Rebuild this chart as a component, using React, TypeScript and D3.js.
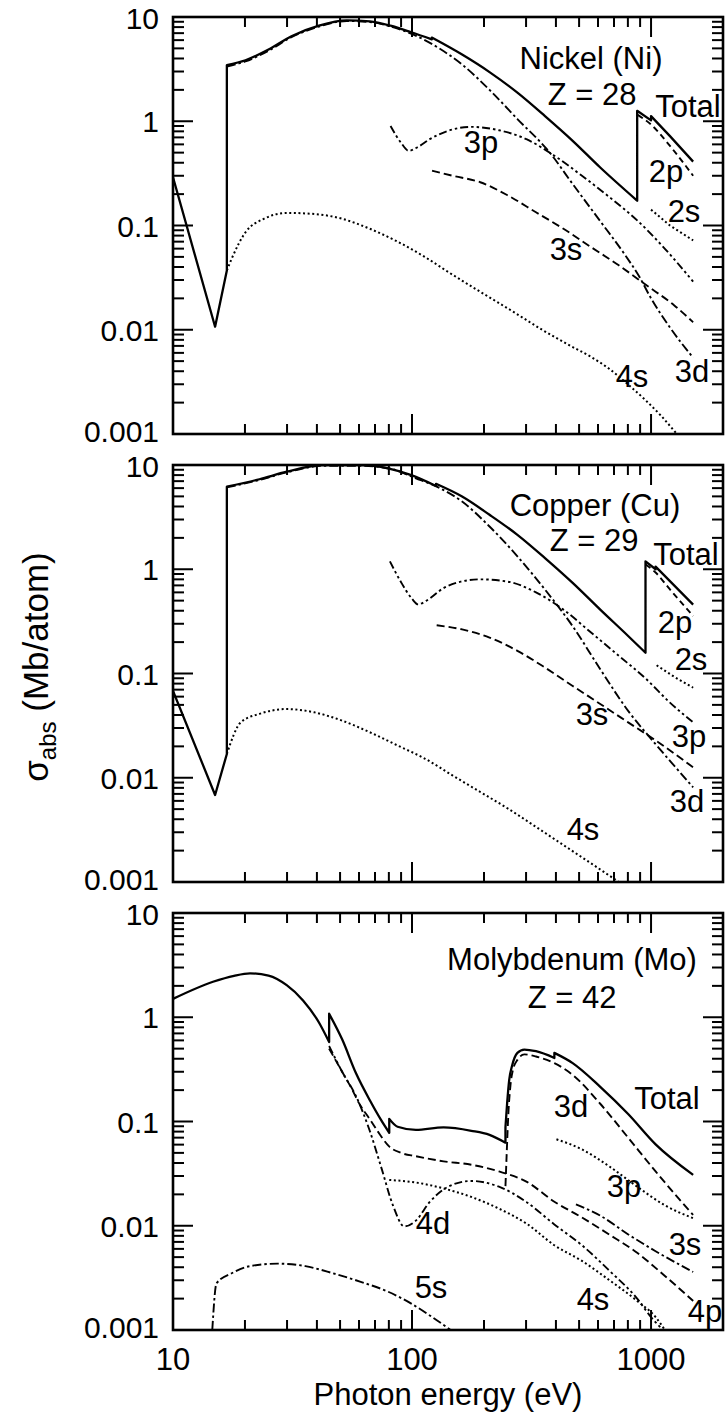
import React from 'react';
import * as d3 from 'd3';

type Pt = [number, number];

// ---------- axis data ----------
const xMajorTicks = [10, 100, 1000];
const xTickLabels = ['10', '100', '1000'];
const yMajorTicks = [10, 1, 0.1, 0.01, 0.001];
const yTickLabels = ['10', '1', '0.1', '0.01', '0.001'];
const minorMult = [2, 3, 4, 5, 6, 7, 8, 9];
const xTitle = 'Photon energy (eV)';

// ---------- Nickel ----------
const niTotal: Pt[] = [[10, 0.29], [15, 0.0107], [16.8, 0.037], [16.8, 3.45], [20.1, 3.85], [25.1, 4.87], [31.3, 6.54], [40.8, 8.26], [53.3, 9.29], [66.6, 9.09], [81.3, 8.26], [99.3, 7.14], [121, 6.1], [121, 6.35], [162, 4.36], [211, 2.96], [276, 1.88], [360, 1.12], [470, 0.649], [613, 0.36], [875, 0.173], [875, 1.26], [1000, 1.02], [1000, 1.12], [1200, 0.72], [1500, 0.41]];
const ni3d: Pt[] = [[16.8, 3.35], [20.1, 3.75], [25.1, 4.75], [31.3, 6.4], [40.8, 8.1], [53.3, 9.15], [66.6, 8.95], [81.3, 8.1], [104, 6.6], [130, 5.0], [162, 3.5], [211, 2.0], [276, 1.05], [377, 0.5], [470, 0.25], [613, 0.11], [766, 0.055], [895, 0.032], [1000, 0.02], [1200, 0.0105], [1500, 0.0054]];
const ni3p: Pt[] = [[81.3, 0.9], [90, 0.62], [97, 0.52], [105, 0.56], [118.6, 0.673], [141.6, 0.81], [177, 0.883], [231, 0.82], [301, 0.673], [394, 0.467], [514, 0.3], [670, 0.187], [875, 0.112], [1143, 0.0598], [1500, 0.029]];
const ni3s: Pt[] = [[121.3, 0.335], [148, 0.3], [193, 0.26], [252, 0.194], [330, 0.134], [430, 0.093], [561, 0.062], [733, 0.0415], [957, 0.0267], [1248, 0.0172], [1500, 0.0118]];
const ni2p: Pt[] = [[880, 1.15], [1000, 0.93], [1200, 0.58], [1500, 0.3]];
const ni2s: Pt[] = [[1000, 0.142], [1200, 0.1], [1500, 0.072]];
const ni4s: Pt[] = [[16.8, 0.037], [17.6, 0.048], [20.1, 0.086], [24, 0.116], [30, 0.132], [39, 0.129], [51, 0.116], [66.6, 0.093], [87, 0.07], [113, 0.05], [144, 0.035], [200, 0.022], [270, 0.0145], [350, 0.01], [450, 0.0072], [560, 0.0055], [670, 0.0042], [800, 0.003], [950, 0.0021], [1100, 0.0015], [1282, 0.001]];
const niText = ['Nickel (Ni)', 'Z = 28', 'Total', '3p', '2p', '2s', '3s', '4s', '3d'];

// ---------- Copper ----------
const cuTotal: Pt[] = [[10, 0.068], [15, 0.00684], [16.8, 0.0169], [16.8, 6.2], [23, 7.3], [29.9, 8.63], [42.7, 10], [61, 10], [79.4, 9.3], [99.3, 8.0], [126, 6.3], [126, 6.6], [162, 4.98], [211, 3.33], [276, 2.14], [360, 1.28], [470, 0.74], [613, 0.41], [802, 0.229], [948, 0.158], [948, 1.19], [1045, 1.0], [1045, 1.06], [1500, 0.458]];
const cu3d: Pt[] = [[16.8, 6.1], [23, 7.2], [29.9, 8.5], [42.7, 9.85], [61, 9.85], [81.3, 9.2], [103.8, 7.46], [126.8, 6.2], [162, 4.46], [211, 2.57], [276, 1.33], [360, 0.638], [470, 0.284], [613, 0.11], [802, 0.0438], [1045, 0.021], [1500, 0.0081]];
const cu3p: Pt[] = [[80.8, 1.19], [90, 0.75], [100, 0.52], [106, 0.46], [115, 0.5], [135.5, 0.66], [160, 0.76], [193, 0.8], [252, 0.76], [330, 0.6], [430, 0.41], [561, 0.247], [733, 0.148], [957, 0.088], [1195, 0.053], [1500, 0.034]];
const cu3s: Pt[] = [[126.8, 0.29], [162, 0.265], [211, 0.221], [276, 0.165], [360, 0.114], [470, 0.076], [613, 0.051], [802, 0.034], [1045, 0.0228], [1500, 0.0126]];
const cu2p: Pt[] = [[950, 1.11], [1045, 0.93], [1200, 0.64], [1500, 0.356]];
const cu2s: Pt[] = [[1055, 0.12], [1250, 0.093], [1500, 0.073]];
const cu4s: Pt[] = [[16.8, 0.0169], [19.2, 0.034], [23, 0.041], [29.9, 0.0456], [39, 0.0424], [51, 0.0353], [66.6, 0.0273], [87, 0.0204], [113.5, 0.0152], [148, 0.0105], [193, 0.0073], [252, 0.00506], [330, 0.00338], [430, 0.00226], [561, 0.00151], [733, 0.001]];
const cuText = ['Copper (Cu)', 'Z = 29', 'Total', '2p', '2s', '3s', '3p', '3d', '4s'];

// ---------- Molybdenum ----------
const moTotal: Pt[] = [[10, 1.5], [14.7, 2.19], [18, 2.5], [21, 2.64], [25.1, 2.51], [29.9, 2.03], [35, 1.45], [40.8, 0.89], [45, 0.578], [45, 1.08], [51, 0.614], [58.3, 0.29], [66.6, 0.16], [74.5, 0.102], [80.3, 0.078], [80.3, 0.106], [87, 0.089], [103.8, 0.083], [135.5, 0.0877], [177, 0.0815], [211, 0.0745], [246, 0.0627], [246, 0.088], [250, 0.15], [255, 0.25], [262, 0.34], [276, 0.455], [295, 0.49], [330, 0.472], [394, 0.407], [394, 0.455], [470, 0.363], [613, 0.215], [802, 0.118], [1045, 0.0604], [1500, 0.0308]];
const mo4d: Pt[] = [[45, 0.53], [51, 0.3], [58.3, 0.175], [66.6, 0.081], [74.5, 0.0357], [83.2, 0.0157], [92.9, 0.00986], [103.8, 0.0112], [118.6, 0.0169], [141.6, 0.0237], [177, 0.0269], [231, 0.0237], [301, 0.0169], [394, 0.0103], [514, 0.0065], [670, 0.0037], [875, 0.002], [1000, 0.00133], [1122, 0.001]];
const mo4p: Pt[] = [[45, 0.5], [51, 0.3], [55.7, 0.21], [60, 0.15], [66.6, 0.105], [72, 0.08], [80, 0.058], [90, 0.05], [103.8, 0.0465], [135.5, 0.0415], [177, 0.0385], [231, 0.0332], [301, 0.0265], [394, 0.017], [514, 0.012], [670, 0.0082], [875, 0.0055], [1143, 0.0033], [1500, 0.0019]];
const mo4s: Pt[] = [[80.3, 0.0275], [103.8, 0.026], [135.5, 0.0228], [177, 0.0189], [231, 0.0146], [301, 0.0105], [394, 0.0065], [514, 0.0046], [670, 0.003], [875, 0.0019], [1045, 0.00133], [1143, 0.001]];
const mo5s: Pt[] = [[14.6, 0.001], [15.2, 0.0028], [17.6, 0.0035], [21, 0.0041], [27.4, 0.00433], [35.8, 0.0041], [46.7, 0.0035], [61, 0.0029], [79.4, 0.00233], [99.3, 0.00179], [118.6, 0.00138], [145, 0.001]];
const mo3d: Pt[] = [[246, 0.024], [249, 0.05], [253, 0.12], [258, 0.22], [264, 0.31], [276, 0.39], [295, 0.44], [330, 0.42], [394, 0.363], [470, 0.28], [613, 0.148], [802, 0.07], [1045, 0.0332], [1306, 0.0182], [1500, 0.0127]];
const mo3p: Pt[] = [[402, 0.0675], [514, 0.054], [670, 0.037], [875, 0.0237], [1143, 0.0157], [1500, 0.0118]];
const mo3s: Pt[] = [[485, 0.016], [613, 0.0125], [800, 0.0083], [1045, 0.0057], [1500, 0.0036]];
const moText = ['Molybdenum (Mo)', 'Z = 42', 'Total', '3d', '3p', '4d', '3s', '5s', '4s', '4p'];

// ---------- layout & styles ----------
const W = 725, H = 1414;
const X0 = 173, X1 = 723;
const PH = 417;
const FONT = '"Liberation Sans", Arial, Helvetica, sans-serif';
const FS = 31;
const TFS = 30;

const STY: Record<string, { dash?: string; w: number }> = {
  solid: { w: 2.3 },
  dash: { dash: '8,4', w: 1.9 },
  sdash: { dash: '6,4', w: 1.9 },
  dot: { dash: '2,2.6', w: 2 },
  dd: { dash: '9,3,2.5,3', w: 1.9 },
  ddd: { dash: '8,3,2.5,3,2.5,3', w: 1.9 },
};

type Series = { data: Pt[]; sty: string };
type Label = { i: number; x: number; y: number };
type Panel = { top: number; series: Series[]; text: string[]; labels: Label[] };

const panels: Panel[] = [
  {
    top: 17,
    series: [
      { data: ni4s, sty: 'dot' }, { data: ni3s, sty: 'dash' }, { data: ni3p, sty: 'ddd' },
      { data: ni3d, sty: 'dd' }, { data: ni2s, sty: 'dot' }, { data: ni2p, sty: 'sdash' },
      { data: niTotal, sty: 'solid' },
    ],
    text: niText,
    labels: [
      { i: 0, x: 591, y: 69 }, { i: 1, x: 592, y: 105 }, { i: 2, x: 688, y: 117 },
      { i: 3, x: 481, y: 153 }, { i: 4, x: 666, y: 182 }, { i: 5, x: 684, y: 222 },
      { i: 6, x: 566, y: 260 }, { i: 7, x: 632, y: 387 }, { i: 8, x: 692, y: 382 },
    ],
  },
  {
    top: 465,
    series: [
      { data: cu4s, sty: 'dot' }, { data: cu3s, sty: 'dash' }, { data: cu3p, sty: 'ddd' },
      { data: cu3d, sty: 'dd' }, { data: cu2s, sty: 'dot' }, { data: cu2p, sty: 'sdash' },
      { data: cuTotal, sty: 'solid' },
    ],
    text: cuText,
    labels: [
      { i: 0, x: 595, y: 516 }, { i: 1, x: 594, y: 551 }, { i: 2, x: 686, y: 565 },
      { i: 3, x: 675, y: 633 }, { i: 4, x: 691, y: 670 }, { i: 5, x: 592, y: 725 },
      { i: 6, x: 689, y: 747 }, { i: 7, x: 687, y: 812 }, { i: 8, x: 583, y: 840 },
    ],
  },
  {
    top: 913,
    series: [
      { data: mo5s, sty: 'dd' }, { data: mo4s, sty: 'dot' }, { data: mo4p, sty: 'dash' },
      { data: mo4d, sty: 'ddd' }, { data: mo3s, sty: 'dd' }, { data: mo3p, sty: 'dot' },
      { data: mo3d, sty: 'dash' }, { data: moTotal, sty: 'solid' },
    ],
    text: moText,
    labels: [
      { i: 0, x: 572, y: 970 }, { i: 1, x: 572, y: 1008 }, { i: 2, x: 667, y: 1109 },
      { i: 3, x: 571, y: 1117 }, { i: 4, x: 624, y: 1197 }, { i: 5, x: 433, y: 1234 },
      { i: 6, x: 685, y: 1255 }, { i: 7, x: 431, y: 1298 }, { i: 8, x: 593, y: 1310 },
      { i: 9, x: 705, y: 1322 },
    ],
  },
];

const xScale = d3.scaleLog().domain([10, 2000]).range([X0, X1]);

function buildPath(pts: Pt[], x: (v: number) => number, y: (v: number) => number): string {
  const segs: Pt[][] = [];
  let cur: Pt[] = [];
  pts.forEach((p, i) => {
    if (i > 0 && p[0] === pts[i - 1][0]) { segs.push(cur); cur = []; }
    cur.push(p);
  });
  segs.push(cur);
  let d = '';
  segs.forEach((s, i) => {
    const gen = d3.line<Pt>().x(p => x(p[0])).y(p => y(p[1]))
      .curve(s.length <= 3 ? d3.curveLinear : d3.curveMonotoneX);
    let sd = gen(s) || '';
    if (i > 0) sd = 'L' + sd.slice(1);
    d += sd;
  });
  return d;
}

function PanelView({ p, idx, last }: { p: Panel; idx: number; last: boolean }) {
  const y = d3.scaleLog().domain([0.001, 10]).range([p.top + PH, p.top]);
  const bottom = p.top + PH;
  const xMinor: number[] = [];
  [10, 100, 1000].forEach(d => minorMult.forEach(m => { const v = d * m; if (v < 2000) xMinor.push(v); }));
  const yMinor: number[] = [];
  [0.001, 0.01, 0.1, 1].forEach(d => minorMult.forEach(m => yMinor.push(d * m)));
  const clipId = `clip${idx}`;
  const tk = { stroke: '#000', strokeWidth: 2 };
  return (
    <g>
      <defs>
        <clipPath id={clipId}>
          <rect x={X0} y={p.top} width={X1 - X0} height={PH} />
        </clipPath>
      </defs>
      <g clipPath={`url(#${clipId})`}>
        {p.series.map((s, i) => {
          const st = STY[s.sty];
          return (
            <path key={i} d={buildPath(s.data, xScale, y)} fill="none" stroke="#000"
              strokeWidth={st.w} strokeDasharray={st.dash} strokeLinejoin="round" />
          );
        })}
      </g>
      {xMajorTicks.map(v => (
        <g key={'xM' + v}>
          <line x1={xScale(v)} x2={xScale(v)} y1={bottom} y2={bottom - 20} {...tk} />
          <line x1={xScale(v)} x2={xScale(v)} y1={p.top} y2={p.top + 20} {...tk} />
        </g>
      ))}
      {xMinor.map(v => (
        <g key={'xm' + v}>
          <line x1={xScale(v)} x2={xScale(v)} y1={bottom} y2={bottom - 10} {...tk} />
          <line x1={xScale(v)} x2={xScale(v)} y1={p.top} y2={p.top + 10} {...tk} />
        </g>
      ))}
      {yMajorTicks.map(v => (
        <g key={'yM' + v}>
          <line x1={X0} x2={X0 + 20} y1={y(v)} y2={y(v)} {...tk} />
          <line x1={X1} x2={X1 - 20} y1={y(v)} y2={y(v)} {...tk} />
        </g>
      ))}
      {yMinor.map(v => (
        <g key={'ym' + v}>
          <line x1={X0} x2={X0 + 11} y1={y(v)} y2={y(v)} {...tk} />
          <line x1={X1} x2={X1 - 11} y1={y(v)} y2={y(v)} {...tk} />
        </g>
      ))}
      <rect x={X0} y={p.top} width={X1 - X0} height={PH} fill="none" stroke="#000" strokeWidth={2.6} />
      {yMajorTicks.map((v, i) => {
        const off = i === 0 ? 12 : i === yMajorTicks.length - 1 ? 8 : 11;
        return (
          <text key={'yl' + v} x={159} y={y(v) + off} textAnchor="end" fontSize={TFS} fontFamily={FONT}>
            {yTickLabels[i]}
          </text>
        );
      })}
      {last && xMajorTicks.map((v, i) => (
        <text key={'xl' + v} x={xScale(v)} y={1370} textAnchor="middle" fontSize={FS} fontFamily={FONT}>
          {xTickLabels[i]}
        </text>
      ))}
      {p.labels.map((l, k) => (
        <text key={'lb' + k} x={l.x} y={l.y} textAnchor="middle" fontSize={FS} fontFamily={FONT}>
          {p.text[l.i]}
        </text>
      ))}
    </g>
  );
}

export default function App() {
  return (
    <svg width={W} height={H} viewBox={`0 0 ${W} ${H}`}
      style={{ position: 'absolute', left: 0, top: 0, background: '#fff' }}>
      <rect x={0} y={0} width={W} height={H} fill="#fff" />
      {panels.map((p, i) => (
        <PanelView key={i} p={p} idx={i} last={i === panels.length - 1} />
      ))}
      <text x={448} y={1405} textAnchor="middle" fontSize={31} fontFamily={FONT}>{xTitle}</text>
      <text transform="translate(48,667) rotate(-90)" textAnchor="middle" fontSize={35} fontFamily={FONT}>
        σ<tspan fontSize={24} dy={8}>abs</tspan><tspan dy={-8}>{'  (Mb/atom)'}</tspan>
      </text>
    </svg>
  );
}
